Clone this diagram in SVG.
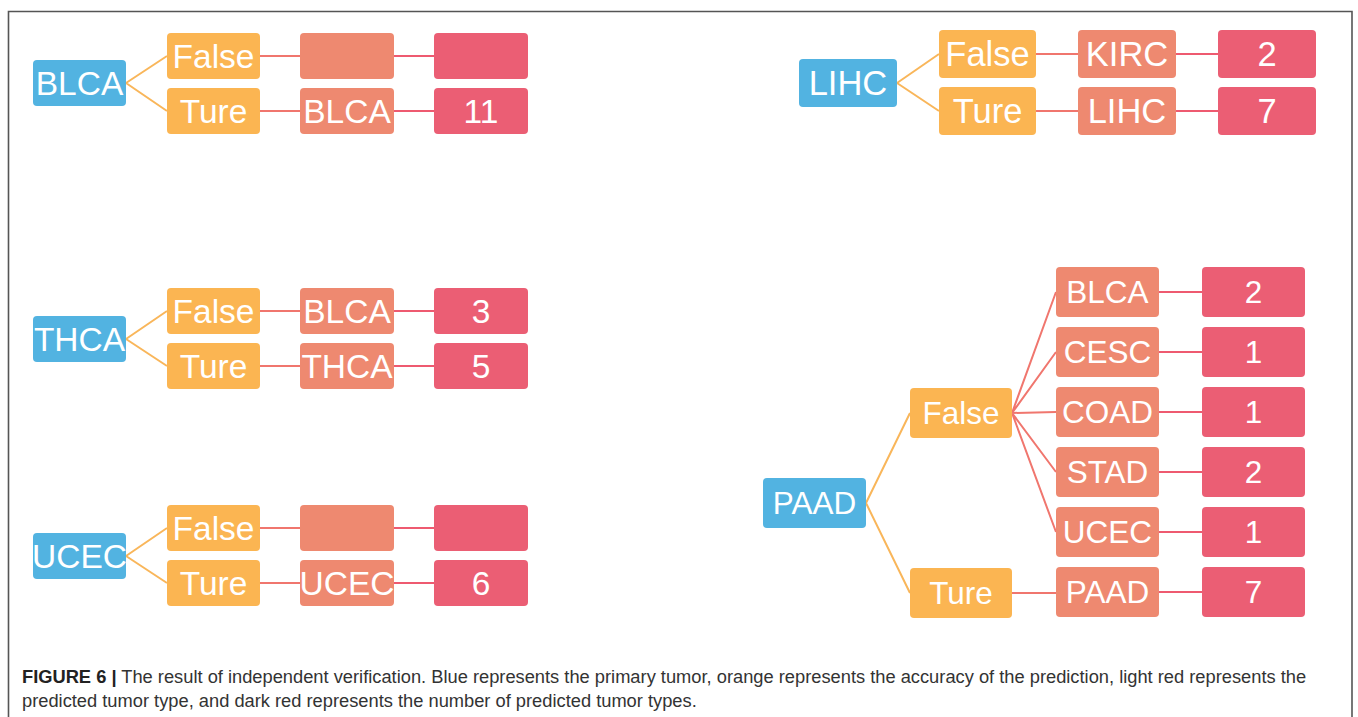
<svg xmlns="http://www.w3.org/2000/svg" width="1358" height="717" viewBox="0 0 1358 717">
<style>
.b{fill:#52B3E1}
.o{fill:#FBB552}
.l{fill:#EE8970}
.d{fill:#EB5E74}
text{font-family:"Liberation Sans",Arial,sans-serif;fill:#fff;text-anchor:middle}
.s1{font-size:33.5px}
.s2{font-size:34.5px}
.s3{font-size:31.5px}
.co{stroke:#F9B65A;stroke-width:2;fill:none}
.cl{stroke:#F0766E;stroke-width:2;fill:none}
.cd{stroke:#EE5A70;stroke-width:2;fill:none}
.cap{fill:#333;text-anchor:start;font-size:18.3px}
</style>
<rect x="0" y="0" width="1358" height="717" fill="#fff"/>
<path d="M8.5 717 V11.5 H1352 V717" fill="none" stroke="#555" stroke-width="1.6"/>

<g id="connectors">
  <path class="co" d="M126 83 L167 56 M126 83 L167 111"/>
  <path class="cl" d="M260 56 H300 M260 111 H300"/>
  <path class="cd" d="M394 56 H434 M394 111 H434"/>
  <path class="co" d="M126 339 L167 311 M126 339 L167 366"/>
  <path class="cl" d="M260 311 H300 M260 366 H300"/>
  <path class="cd" d="M394 311 H434 M394 366 H434"/>
  <path class="co" d="M126 556 L167 528 M126 556 L167 583"/>
  <path class="cl" d="M260 528 H300 M260 583 H300"/>
  <path class="cd" d="M394 528 H434 M394 583 H434"/>
  <path class="co" d="M897 83 L939 54 M897 83 L939 111"/>
  <path class="cl" d="M1036 54 H1078 M1036 111 H1078"/>
  <path class="cd" d="M1176 54 H1218 M1176 111 H1218"/>
  <path class="co" d="M866 503 L910 413 M866 503 L910 593"/>
  <path class="cl" d="M1012 413 L1056 292 M1012 413 L1056 352 M1012 413 L1056 412 M1012 413 L1056 472 M1012 413 L1056 532 M1012 593 H1056"/>
  <path class="cd" d="M1159 292 H1202 M1159 352 H1202 M1159 412 H1202 M1159 472 H1202 M1159 532 H1202 M1159 592 H1202"/>
</g>

<g id="blca"><rect class="b" x="33" y="60" width="93" height="46" rx="4"/><text class="s1" x="79.5" y="95">BLCA</text></g>
<g id="blca-false"><rect class="o" x="167" y="33" width="93" height="46" rx="4"/><text class="s1" x="213.5" y="68">False</text></g>
<g id="blca-ture"><rect class="o" x="167" y="88" width="93" height="46" rx="4"/><text class="s1" x="213.5" y="123">Ture</text></g>
<g id="blca-false-type"><rect class="l" x="300" y="33" width="94" height="46" rx="4"/></g>
<g id="blca-false-num"><rect class="d" x="434" y="33" width="94" height="46" rx="4"/></g>
<g id="blca-ture-type"><rect class="l" x="300" y="88" width="94" height="46" rx="4"/><text class="s1" x="347" y="123">BLCA</text></g>
<g id="blca-ture-num"><rect class="d" x="434" y="88" width="94" height="46" rx="4"/><text class="s1" x="481" y="123">11</text></g>

<g id="thca"><rect class="b" x="33" y="316" width="93" height="46" rx="4"/><text class="s1" x="79.5" y="351">THCA</text></g>
<g id="thca-false"><rect class="o" x="167" y="288" width="93" height="46" rx="4"/><text class="s1" x="213.5" y="323">False</text></g>
<g id="thca-ture"><rect class="o" x="167" y="343" width="93" height="46" rx="4"/><text class="s1" x="213.5" y="378">Ture</text></g>
<g id="thca-false-type"><rect class="l" x="300" y="288" width="94" height="46" rx="4"/><text class="s1" x="347" y="323">BLCA</text></g>
<g id="thca-false-num"><rect class="d" x="434" y="288" width="94" height="46" rx="4"/><text class="s1" x="481" y="323">3</text></g>
<g id="thca-ture-type"><rect class="l" x="300" y="343" width="94" height="46" rx="4"/><text class="s1" x="347" y="378">THCA</text></g>
<g id="thca-ture-num"><rect class="d" x="434" y="343" width="94" height="46" rx="4"/><text class="s1" x="481" y="378">5</text></g>

<g id="ucec"><rect class="b" x="33" y="533" width="93" height="46" rx="4"/><text class="s1" x="79.5" y="568">UCEC</text></g>
<g id="ucec-false"><rect class="o" x="167" y="505" width="93" height="46" rx="4"/><text class="s1" x="213.5" y="540">False</text></g>
<g id="ucec-ture"><rect class="o" x="167" y="560" width="93" height="46" rx="4"/><text class="s1" x="213.5" y="595">Ture</text></g>
<g id="ucec-false-type"><rect class="l" x="300" y="505" width="94" height="46" rx="4"/></g>
<g id="ucec-false-num"><rect class="d" x="434" y="505" width="94" height="46" rx="4"/></g>
<g id="ucec-ture-type"><rect class="l" x="300" y="560" width="94" height="46" rx="4"/><text class="s1" x="347" y="595">UCEC</text></g>
<g id="ucec-ture-num"><rect class="d" x="434" y="560" width="94" height="46" rx="4"/><text class="s1" x="481" y="595">6</text></g>

<g id="lihc"><rect class="b" x="799" y="59" width="98" height="48" rx="4"/><text class="s2" x="848" y="95.3">LIHC</text></g>
<g id="lihc-false"><rect class="o" x="939" y="30" width="97" height="48" rx="4"/><text class="s2" x="987.5" y="66.3">False</text></g>
<g id="lihc-ture"><rect class="o" x="939" y="87" width="97" height="48" rx="4"/><text class="s2" x="987.5" y="123.3">Ture</text></g>
<g id="lihc-false-type"><rect class="l" x="1078" y="30" width="98" height="48" rx="4"/><text class="s2" x="1127" y="66.3">KIRC</text></g>
<g id="lihc-false-num"><rect class="d" x="1218" y="30" width="98" height="48" rx="4"/><text class="s2" x="1267" y="66.3">2</text></g>
<g id="lihc-ture-type"><rect class="l" x="1078" y="87" width="98" height="48" rx="4"/><text class="s2" x="1127" y="123.3">LIHC</text></g>
<g id="lihc-ture-num"><rect class="d" x="1218" y="87" width="98" height="48" rx="4"/><text class="s2" x="1267" y="123.3">7</text></g>

<g id="paad"><rect class="b" x="763" y="478" width="103" height="50" rx="4"/><text class="s3" x="814.5" y="514.3">PAAD</text></g>
<g id="paad-false"><rect class="o" x="910" y="388" width="102" height="50" rx="4"/><text class="s3" x="961" y="424.3">False</text></g>
<g id="paad-ture"><rect class="o" x="910" y="568" width="102" height="50" rx="4"/><text class="s3" x="961" y="604.3">Ture</text></g>
<g id="paad-blca"><rect class="l" x="1056" y="267" width="103" height="50" rx="4"/><text class="s3" x="1107.5" y="303.3">BLCA</text></g>
<g id="paad-cesc"><rect class="l" x="1056" y="327" width="103" height="50" rx="4"/><text class="s3" x="1107.5" y="363.3">CESC</text></g>
<g id="paad-coad"><rect class="l" x="1056" y="387" width="103" height="50" rx="4"/><text class="s3" x="1107.5" y="423.3">COAD</text></g>
<g id="paad-stad"><rect class="l" x="1056" y="447" width="103" height="50" rx="4"/><text class="s3" x="1107.5" y="483.3">STAD</text></g>
<g id="paad-ucec"><rect class="l" x="1056" y="507" width="103" height="50" rx="4"/><text class="s3" x="1107.5" y="543.3">UCEC</text></g>
<g id="paad-paad"><rect class="l" x="1056" y="567" width="103" height="50" rx="4"/><text class="s3" x="1107.5" y="603.3">PAAD</text></g>
<g id="paad-blca-num"><rect class="d" x="1202" y="267" width="103" height="50" rx="4"/><text class="s3" x="1253.5" y="303.3">2</text></g>
<g id="paad-cesc-num"><rect class="d" x="1202" y="327" width="103" height="50" rx="4"/><text class="s3" x="1253.5" y="363.3">1</text></g>
<g id="paad-coad-num"><rect class="d" x="1202" y="387" width="103" height="50" rx="4"/><text class="s3" x="1253.5" y="423.3">1</text></g>
<g id="paad-stad-num"><rect class="d" x="1202" y="447" width="103" height="50" rx="4"/><text class="s3" x="1253.5" y="483.3">2</text></g>
<g id="paad-ucec-num"><rect class="d" x="1202" y="507" width="103" height="50" rx="4"/><text class="s3" x="1253.5" y="543.3">1</text></g>
<g id="paad-paad-num"><rect class="d" x="1202" y="567" width="103" height="50" rx="4"/><text class="s3" x="1253.5" y="603.3">7</text></g>

<g id="caption">
<text class="cap" x="22" y="683"><tspan font-weight="bold" fill="#222">FIGURE 6 |</tspan> The result of independent verification. Blue represents the primary tumor, orange represents the accuracy of the prediction, light red represents the</text>
<text class="cap" x="22" y="707">predicted tumor type, and dark red represents the number of predicted tumor types.</text>
</g>
</svg>
